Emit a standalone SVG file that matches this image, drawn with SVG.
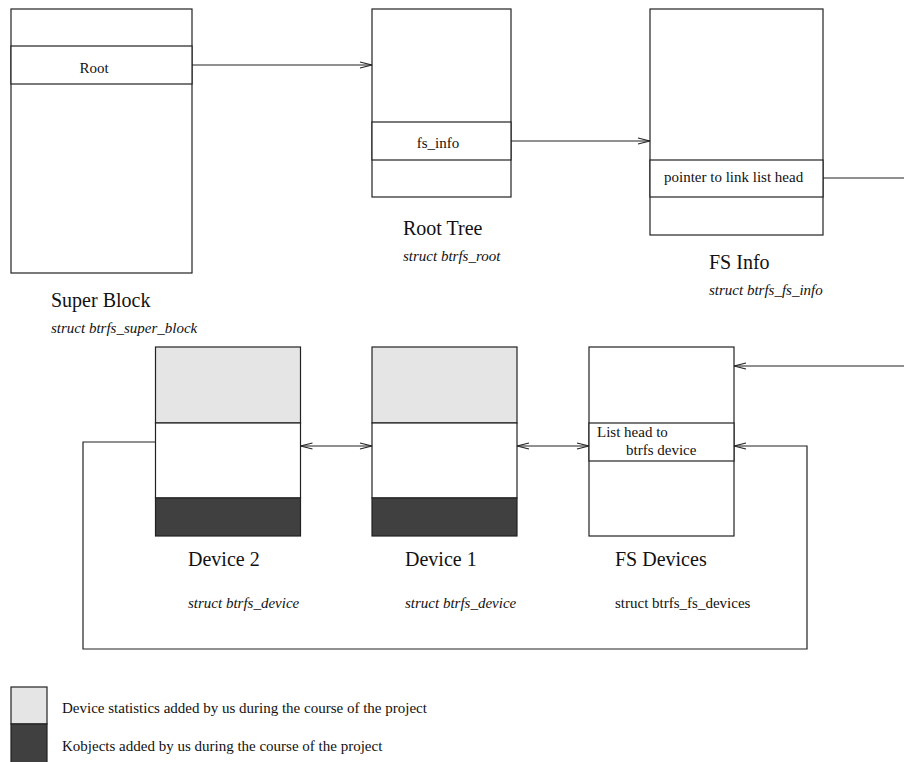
<svg xmlns="http://www.w3.org/2000/svg" width="904" height="762" viewBox="0 0 904 762">
<style>
.box{fill:#fff;stroke:#222;stroke-width:1.2}
.lg{fill:#e5e5e5;stroke:#222;stroke-width:1.2}
.dk{fill:#404040;stroke:#222;stroke-width:1.2}
.ln{fill:none;stroke:#222;stroke-width:1.2}
.t{font-family:"Liberation Serif","Times New Roman",serif;font-size:15px;fill:#111}
.h{font-family:"Liberation Serif","Times New Roman",serif;font-size:20px;fill:#111}
.i{font-family:"Liberation Serif","Times New Roman",serif;font-size:15px;font-style:italic;fill:#111}
</style>
<defs>
<marker id="ah" markerWidth="14" markerHeight="8" refX="13" refY="4" orient="auto-start-reverse" markerUnits="userSpaceOnUse">
<polyline points="1,1 13,4 1,7" fill="none" stroke="#222" stroke-width="1.1"/>
</marker>
</defs>
<rect width="904" height="762" fill="#fff"/>
<g id="superblock">
<rect class="box" x="11" y="9" width="181" height="264"/>
<rect class="box" x="11" y="46" width="181" height="38"/>
<text class="t" x="94" y="73" text-anchor="middle">Root</text>
<text class="h" x="51" y="307">Super Block</text>
<text class="i" x="51" y="333">struct btrfs_super_block</text>
</g>
<g id="roottree">
<rect class="box" x="372" y="9" width="139" height="188"/>
<rect class="box" x="372" y="122" width="139" height="38"/>
<text class="t" x="438" y="148" text-anchor="middle">fs_info</text>
<text class="h" x="403" y="235">Root Tree</text>
<text class="i" x="403" y="261">struct btrfs_root</text>
</g>
<g id="fsinfo">
<rect class="box" x="650" y="9" width="173" height="226"/>
<rect class="box" x="650" y="160" width="173" height="37"/>
<text class="t" x="664" y="182">pointer to link list head</text>
<text class="h" x="709" y="269">FS Info</text>
<text class="i" x="709" y="295">struct btrfs_fs_info</text>
</g>
<g id="device2">
<rect class="lg" x="155.5" y="347" width="145" height="76"/>
<rect class="box" x="155.5" y="423" width="145" height="75"/>
<rect class="dk" x="155.5" y="498" width="145" height="38"/>
<text class="h" x="188" y="566">Device 2</text>
<text class="i" x="188" y="608">struct btrfs_device</text>
</g>
<g id="device1">
<rect class="lg" x="372" y="347" width="145" height="76"/>
<rect class="box" x="372" y="423" width="145" height="75"/>
<rect class="dk" x="372" y="498" width="145" height="38"/>
<text class="h" x="405" y="566">Device 1</text>
<text class="i" x="405" y="608">struct btrfs_device</text>
</g>
<g id="fsdevices">
<rect class="box" x="589" y="347" width="145" height="189"/>
<rect class="box" x="589" y="423" width="145" height="38"/>
<text class="t" x="597" y="437">List head to</text>
<text class="t" x="626" y="455">btrfs device</text>
<text class="h" x="615" y="566">FS Devices</text>
<text class="t" x="615" y="608">struct btrfs_fs_devices</text>
</g>
<g id="legend">
<rect class="lg" x="11" y="687" width="36" height="37"/>
<rect class="dk" x="11" y="724" width="36" height="40"/>
<text class="t" x="62" y="713">Device statistics added by us during the course of the project</text>
<text class="t" x="62" y="751">Kobjects added by us during the course of the project</text>
</g>
<g id="connectors">
<line class="ln" x1="192" y1="65" x2="372" y2="65" marker-end="url(#ah)"/>
<line class="ln" x1="511" y1="141" x2="650" y2="141" marker-end="url(#ah)"/>
<line class="ln" x1="823" y1="178" x2="904" y2="178"/>
<line class="ln" x1="904" y1="366" x2="734" y2="366" marker-end="url(#ah)"/>
<line class="ln" x1="300.5" y1="446" x2="372" y2="446" marker-start="url(#ah)" marker-end="url(#ah)"/>
<line class="ln" x1="517" y1="446" x2="589" y2="446" marker-start="url(#ah)" marker-end="url(#ah)"/>
<polyline class="ln" points="155.5,442 83,442 83,649 807,649 807,446 734,446" marker-end="url(#ah)"/>
</g>
</svg>
